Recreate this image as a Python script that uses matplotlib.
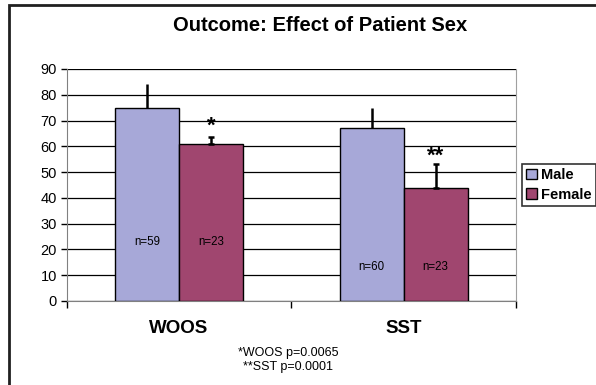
import matplotlib

matplotlib.use("Agg")
import matplotlib.pyplot as plt
import numpy as np
from matplotlib.patches import Rectangle

plt.rcParams["font.family"] = ["Liberation Sans", "DejaVu Sans"]

categories = ["WOOS", "SST"]
series = ["Male", "Female"]
male_vals = [75, 67]
female_vals = [61, 44]
male_err = [9, 8]
female_err = [2.5, 9]
male_n = ["n=59", "n=60"]
female_n = ["n=23", "n=23"]
n_label_y = [23, 13]
stars = ["*", "**"]
star_y = [63.8, 52.0]
footnote = ["*WOOS p=0.0065", "**SST p=0.0001"]
yticks = list(range(0, 100, 10))

MALE_C = "#a7a8d8"
FEMALE_C = "#a0466f"

fig = plt.figure(figsize=(5.96, 3.85), dpi=100)
ax = fig.add_axes([0.1116, 0.2182, 0.7542, 0.6026])

x = np.arange(len(categories))
w = 0.285
mb = ax.bar(x - w / 2, male_vals, w, color=MALE_C, edgecolor="black", lw=1.0, zorder=3)
fb = ax.bar(x + w / 2, female_vals, w, color=FEMALE_C, edgecolor="black", lw=1.0, zorder=3)
ax.errorbar(x - w / 2, male_vals, yerr=[np.zeros(2), male_err], fmt="none",
            ecolor="black", elinewidth=1.8, capsize=0, zorder=4)
ax.errorbar(x + w / 2, female_vals, yerr=[np.zeros(2), female_err], fmt="none",
            ecolor="black", elinewidth=1.8, capsize=2.5, capthick=1.8, zorder=4)

for i in range(len(categories)):
    ax.text(x[i] - w / 2, n_label_y[i], male_n[i], ha="center", va="center", fontsize=8.3)
    ax.text(x[i] + w / 2, n_label_y[i], female_n[i], ha="center", va="center", fontsize=8.3)
    ax.text(x[i] + w / 2, star_y[i], stars[i], ha="center", va="bottom",
            fontsize=16, fontweight="bold")

ax.set_xlim(-0.5, len(categories) - 0.5)
ax.set_ylim(0, 90)
ax.set_yticks(yticks)
ax.tick_params(axis="y", labelsize=10.5, length=4, width=1, direction="out", pad=3)
ax.set_xticks(x)
ax.set_xticklabels(categories, fontsize=13.5, fontweight="bold")
ax.tick_params(axis="x", length=0, pad=14)
ax.set_xticks(np.arange(-0.5, len(categories)), minor=True)
ax.tick_params(axis="x", which="minor", length=5, width=1, direction="out")
ax.yaxis.grid(True, color="black", lw=0.9, zorder=0)
ax.set_axisbelow(True)
ax.spines["top"].set_visible(False)
ax.spines["right"].set_color("#a0a0a0")
ax.spines["left"].set_color("#808080")
ax.spines["bottom"].set_color("#808080")

fig.text(0.5375, 0.935, "Outcome: Effect of Patient Sex", ha="center", va="center",
         fontsize=14.5, fontweight="bold")
fig.text(0.484, 0.083, footnote[0], ha="center", va="center", fontsize=9)
fig.text(0.484, 0.048, footnote[1], ha="center", va="center", fontsize=9)

leg = fig.legend([mb, fb], series, loc="upper left", bbox_to_anchor=(0.876, 0.575),
                 frameon=True, fancybox=False, edgecolor="black",
                 prop={"weight": "bold", "size": 10.5}, handlelength=0.75,
                 handleheight=0.75, handletextpad=0.25, borderpad=0.3,
                 labelspacing=0.4, borderaxespad=0)
leg.get_frame().set_linewidth(1.2)

# outer chart frame
fig.patches.append(Rectangle((9 / 596, -0.1), 1.2, 1 - 5 / 385 + 0.1,
                             transform=fig.transFigure, fill=False,
                             edgecolor="#202020", lw=2))

fig.savefig("out.png", dpi=100)
